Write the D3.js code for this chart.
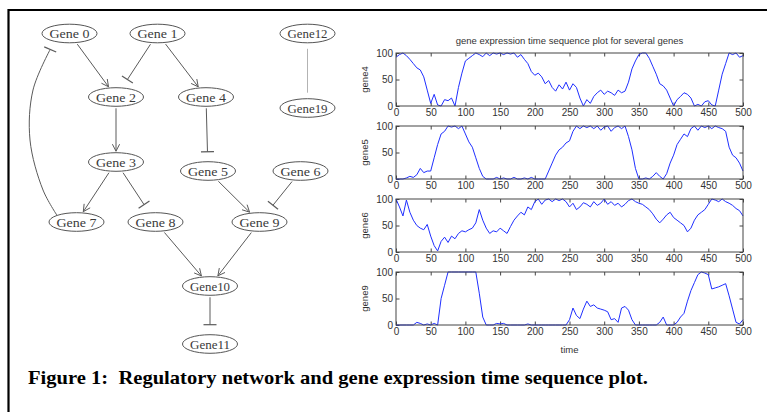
<!DOCTYPE html>
<html><head><meta charset="utf-8">
<script src="https://cdn.jsdelivr.net/npm/d3@7"></script>
<style>html,body{margin:0;padding:0;background:#fff}svg{display:block}</style>
</head><body>
<script>
// ---------------- data ----------------
const genes = ["gene4", "gene5", "gene6", "gene9"];
const gene4 = [92,97,100,95,88,80,72,68,55,30,
  5,22,2,0,12,10,15,0,35,62,
  85,90,95,100,97,93,100,95,100,98,
  100,97,100,98,100,92,97,88,80,65,
  58,62,55,42,48,35,28,40,32,45,
  30,42,35,15,0,12,5,18,25,30,
  22,28,25,20,30,25,28,45,70,85,
  97,100,100,90,75,60,42,38,30,15,
  0,12,18,25,22,15,0,3,0,8,
  10,2,0,30,60,80,100,97,100,92,
  95];
const gene5 = [0,0,0,2,5,3,8,20,12,15,
  15,40,65,85,90,100,98,100,95,100,
  85,70,60,40,20,5,0,0,0,3,
  0,2,0,0,3,0,0,2,0,3,
  0,0,0,0,15,30,45,55,60,68,
  72,90,100,95,100,97,100,95,100,92,
  98,100,90,97,100,95,100,80,55,20,
  0,0,2,0,5,12,5,0,10,30,
  45,65,75,85,80,95,100,92,100,97,
  100,95,100,97,95,90,60,45,40,30,
  15];
const gene6 = [100,85,68,98,75,60,50,45,42,52,
  30,12,2,20,28,18,30,25,35,40,
  38,42,45,55,80,60,45,35,40,38,
  45,40,35,48,60,68,75,70,85,80,
  95,100,90,98,100,95,100,97,100,95,
  85,92,80,85,93,90,85,95,88,92,
  100,90,95,88,92,85,90,97,100,95,
  92,90,85,80,72,62,55,62,70,75,
  65,60,55,50,38,45,60,70,75,80,
  90,100,98,95,100,95,92,88,82,78,
  68];
const gene9 = [0,0,0,0,0,0,5,3,0,2,
  0,3,0,50,75,100,100,100,100,100,
  100,100,100,100,60,15,0,0,0,3,
  2,3,0,0,0,0,0,0,2,0,
  0,0,0,0,0,0,0,0,0,0,
  10,32,18,12,30,45,35,38,32,30,
  28,25,10,12,5,32,35,28,10,0,
  0,0,0,0,0,0,5,15,0,0,
  0,5,15,22,45,65,80,95,100,98,
  95,68,70,72,75,78,55,30,5,2,
  10];
const series = [gene4, gene5, gene6, gene9];
const times = d3.range(0, 501, 5);
const xTicks = [0, 50, 100, 150, 200, 250, 300, 350, 400, 450, 500];
const yTicks = [0, 50, 100];
const plotTitle = "gene expression time sequence plot for several genes";
const xLabel = "time";
const caption = "Figure 1:  Regulatory network and gene expression time sequence plot.";

const nodes = ["Gene 0","Gene 1","Gene 2","Gene 3","Gene 4","Gene 5","Gene 6",
  "Gene 7","Gene 8","Gene 9","Gene10","Gene11","Gene12","Gene19"];
// type: act = arrow, inh = tee, link = undirected
const edges = [
  ["Gene 0","Gene 2","act"], ["Gene 1","Gene 2","inh"], ["Gene 1","Gene 4","act"],
  ["Gene12","Gene19","link"], ["Gene 2","Gene 3","act"], ["Gene 4","Gene 5","inh"],
  ["Gene 3","Gene 7","act"], ["Gene 3","Gene 8","inh"], ["Gene 5","Gene 9","act"],
  ["Gene 6","Gene 9","inh"], ["Gene 8","Gene10","act"], ["Gene 9","Gene10","act"],
  ["Gene10","Gene11","inh"], ["Gene 7","Gene 0","inh"]
];

// ---------------- layout (positions / styles) ----------------
const nodeLayout = {
  "Gene 0":[69.5,33.5], "Gene 1":[157.5,33.5], "Gene12":[307.5,33.5],
  "Gene 2":[116,97], "Gene 4":[206,97], "Gene19":[307.5,108],
  "Gene 3":[116,162], "Gene 5":[208,171], "Gene 6":[300.5,171],
  "Gene 7":[76.5,222], "Gene 8":[155.5,222], "Gene 9":[259.5,222],
  "Gene10":[210,286], "Gene11":[210,344]
};
const curved = {"Gene 7|Gene 0": {via:[[43,190],[30,140],[33,90]], srcAngle:225, tgtAngle:125}};
const RX = 27.5, RY = 9.3;

const W = 767, H = 412;
const svg = d3.select("body").append("svg").attr("width", W).attr("height", H)
  .style("background", "#fff");

// frame
svg.append("path").attr("d", `M${W},10H8.5V${H}`).attr("fill","none")
  .attr("stroke","#000").attr("stroke-width",2.2);

// ---------------- network ----------------
const nx = d3.scaleLinear().domain([0,1]).range([0,1]);
const ny = d3.scaleLinear().domain([0,1]).range([0,1]);
const P = id => ({x: nx(nodeLayout[id][0]), y: ny(nodeLayout[id][1])});
function boundary(c, t) {
  const dx = t.x - c.x, dy = t.y - c.y;
  const s = 1 / Math.sqrt((dx/RX)**2 + (dy/RY)**2);
  return {x: c.x + dx*s, y: c.y + dy*s};
}
function along(p, q, d) {
  const dx = q.x - p.x, dy = q.y - p.y, L = Math.hypot(dx, dy);
  return {x: p.x + dx/L*d, y: p.y + dy/L*d};
}
function ellAt(c, deg) {
  const a = deg*Math.PI/180; return {x: c.x + RX*Math.cos(a), y: c.y + RY*Math.sin(a)};
}
const net = svg.append("g");
const edgeColor = "#5a5a5a";
edges.forEach(([s, t, type]) => {
  const a = P(s), b = P(t);
  const key = s + "|" + t;
  let start, end, dirFrom;
  if (curved[key]) {
    const cv = curved[key];
    const via = cv.via.map(v => ({x: nx(v[0]), y: ny(v[1])}));
    start = ellAt(a, cv.srcAngle);
    const bEdge = ellAt(b, cv.tgtAngle);
    end = along(bEdge, via[via.length-1], type === "inh" ? 9 : 1);
    const pts = [start, ...via, end];
    dirFrom = via[via.length-1];
    net.append("path").attr("d", d3.line().x(d=>d.x).y(d=>d.y).curve(d3.curveCatmullRom)(pts))
      .attr("fill","none").attr("stroke", edgeColor).attr("stroke-width", 1);
  } else {
    const bs = boundary(a, b), be = boundary(b, a);
    start = along(bs, b, type === "link" ? 6 : 2);
    end = along(be, a, type === "inh" ? 10 : (type === "link" ? 6 : 1.5));
    dirFrom = start;
    net.append("line").attr("x1", start.x).attr("y1", start.y).attr("x2", end.x).attr("y2", end.y)
      .attr("stroke", type === "link" ? "#a0a0a0" : edgeColor).attr("stroke-width", type === "link" ? 0.8 : 1);
  }
  const dx = end.x - dirFrom.x, dy = end.y - dirFrom.y, L = Math.hypot(dx, dy);
  const ux = dx/L, uy = dy/L;
  if (type === "act") {
    const len = 7, hw = 3.6;
    const bx = end.x - ux*len, by = end.y - uy*len;
    net.append("path")
      .attr("d", `M${bx - uy*hw},${by + ux*hw}L${end.x},${end.y}L${bx + uy*hw},${by - ux*hw}`)
      .attr("fill","none").attr("stroke", edgeColor).attr("stroke-width", 1);
  } else if (type === "inh") {
    const hw = 6.5;
    net.append("line").attr("x1", end.x - uy*hw).attr("y1", end.y + ux*hw)
      .attr("x2", end.x + uy*hw).attr("y2", end.y - ux*hw)
      .attr("stroke", edgeColor).attr("stroke-width", 1.2);
  }
});
const ng = net.selectAll("g.node").data(nodes).join("g").attr("class","node")
  .attr("transform", d => `translate(${P(d).x},${P(d).y})`);
ng.append("ellipse").attr("rx", RX).attr("ry", RY).attr("fill","#fff")
  .attr("stroke", "#555").attr("stroke-width", 1);
ng.append("text").text(d => d).attr("text-anchor","middle").attr("dy","0.35em")
  .attr("font-family","'Liberation Serif', 'Times New Roman', serif").attr("font-size", 13)
  .attr("textLength", 40).attr("lengthAdjust","spacingAndGlyphs")
  .attr("fill","#3a3a3a");

// ---------------- time series ----------------
const left = 396, right = 743, panelH = 53;
const tops = [53, 126, 199, 272];
const x = d3.scaleLinear().domain([0, 500]).range([left, right]);
const axisFont = "'Liberation Sans', Arial, Helvetica, sans-serif";
const axisCol = "#444";

svg.append("text").attr("x", (left+right)/2).attr("y", 44).attr("text-anchor","middle")
  .attr("font-family", axisFont).attr("font-size", 9.5).attr("fill","#333").text(plotTitle);

genes.forEach((g, i) => {
  const top = tops[i];
  const y = d3.scaleLinear().domain([0, 100]).range([top + panelH, top]);
  const pg = svg.append("g");
  const styleAxis = sel => {
    sel.select(".domain").remove();
    sel.selectAll("line").attr("stroke", axisCol);
    sel.selectAll("text").attr("font-family", axisFont).attr("font-size", 10).attr("fill","#333");
  };
  pg.append("g").attr("transform", `translate(0,${top+panelH})`)
    .call(d3.axisBottom(x).tickValues(xTicks).tickSizeInner(-3.5).tickSizeOuter(0).tickPadding(3))
    .call(styleAxis);
  pg.append("g").attr("transform", `translate(0,${top})`)
    .call(d3.axisTop(x).tickValues(xTicks).tickSizeInner(-3.5).tickSizeOuter(0).tickFormat(""))
    .call(styleAxis);
  pg.append("g").attr("transform", `translate(${left},0)`)
    .call(d3.axisLeft(y).tickValues(yTicks).tickSizeInner(-3.5).tickSizeOuter(0).tickPadding(3))
    .call(styleAxis);
  pg.append("g").attr("transform", `translate(${right},0)`)
    .call(d3.axisRight(y).tickValues(yTicks).tickSizeInner(-3.5).tickSizeOuter(0).tickFormat(""))
    .call(styleAxis);
  pg.append("path").datum(series[i])
    .attr("d", d3.line().x((d, j) => x(times[j])).y(d => y(d)))
    .attr("fill","none").attr("stroke","#1f2fff").attr("stroke-width",1);
  pg.append("rect").attr("x", left).attr("y", top).attr("width", right-left).attr("height", panelH)
    .attr("fill","none").attr("stroke", axisCol).attr("stroke-width", 1);
  pg.append("text").attr("transform", `translate(368,${top + panelH/2}) rotate(-90)`)
    .attr("text-anchor","middle").attr("font-family", axisFont).attr("font-size", 9.5)
    .attr("fill","#333").text(g);
});
svg.append("text").attr("x", (left+right)/2).attr("y", 352.5).attr("text-anchor","middle")
  .attr("font-family", axisFont).attr("font-size", 9.5).attr("fill","#333").text(xLabel);

// caption
svg.append("text").attr("x", 28).attr("y", 384).attr("xml:space","preserve")
  .style("white-space","pre")
  .attr("textLength", 620).attr("lengthAdjust","spacingAndGlyphs")
  .attr("font-family","'Liberation Serif', 'Times New Roman', serif").attr("font-weight","bold")
  .attr("font-size", 19.5).attr("fill","#000").text(caption);
</script>
</body></html>
